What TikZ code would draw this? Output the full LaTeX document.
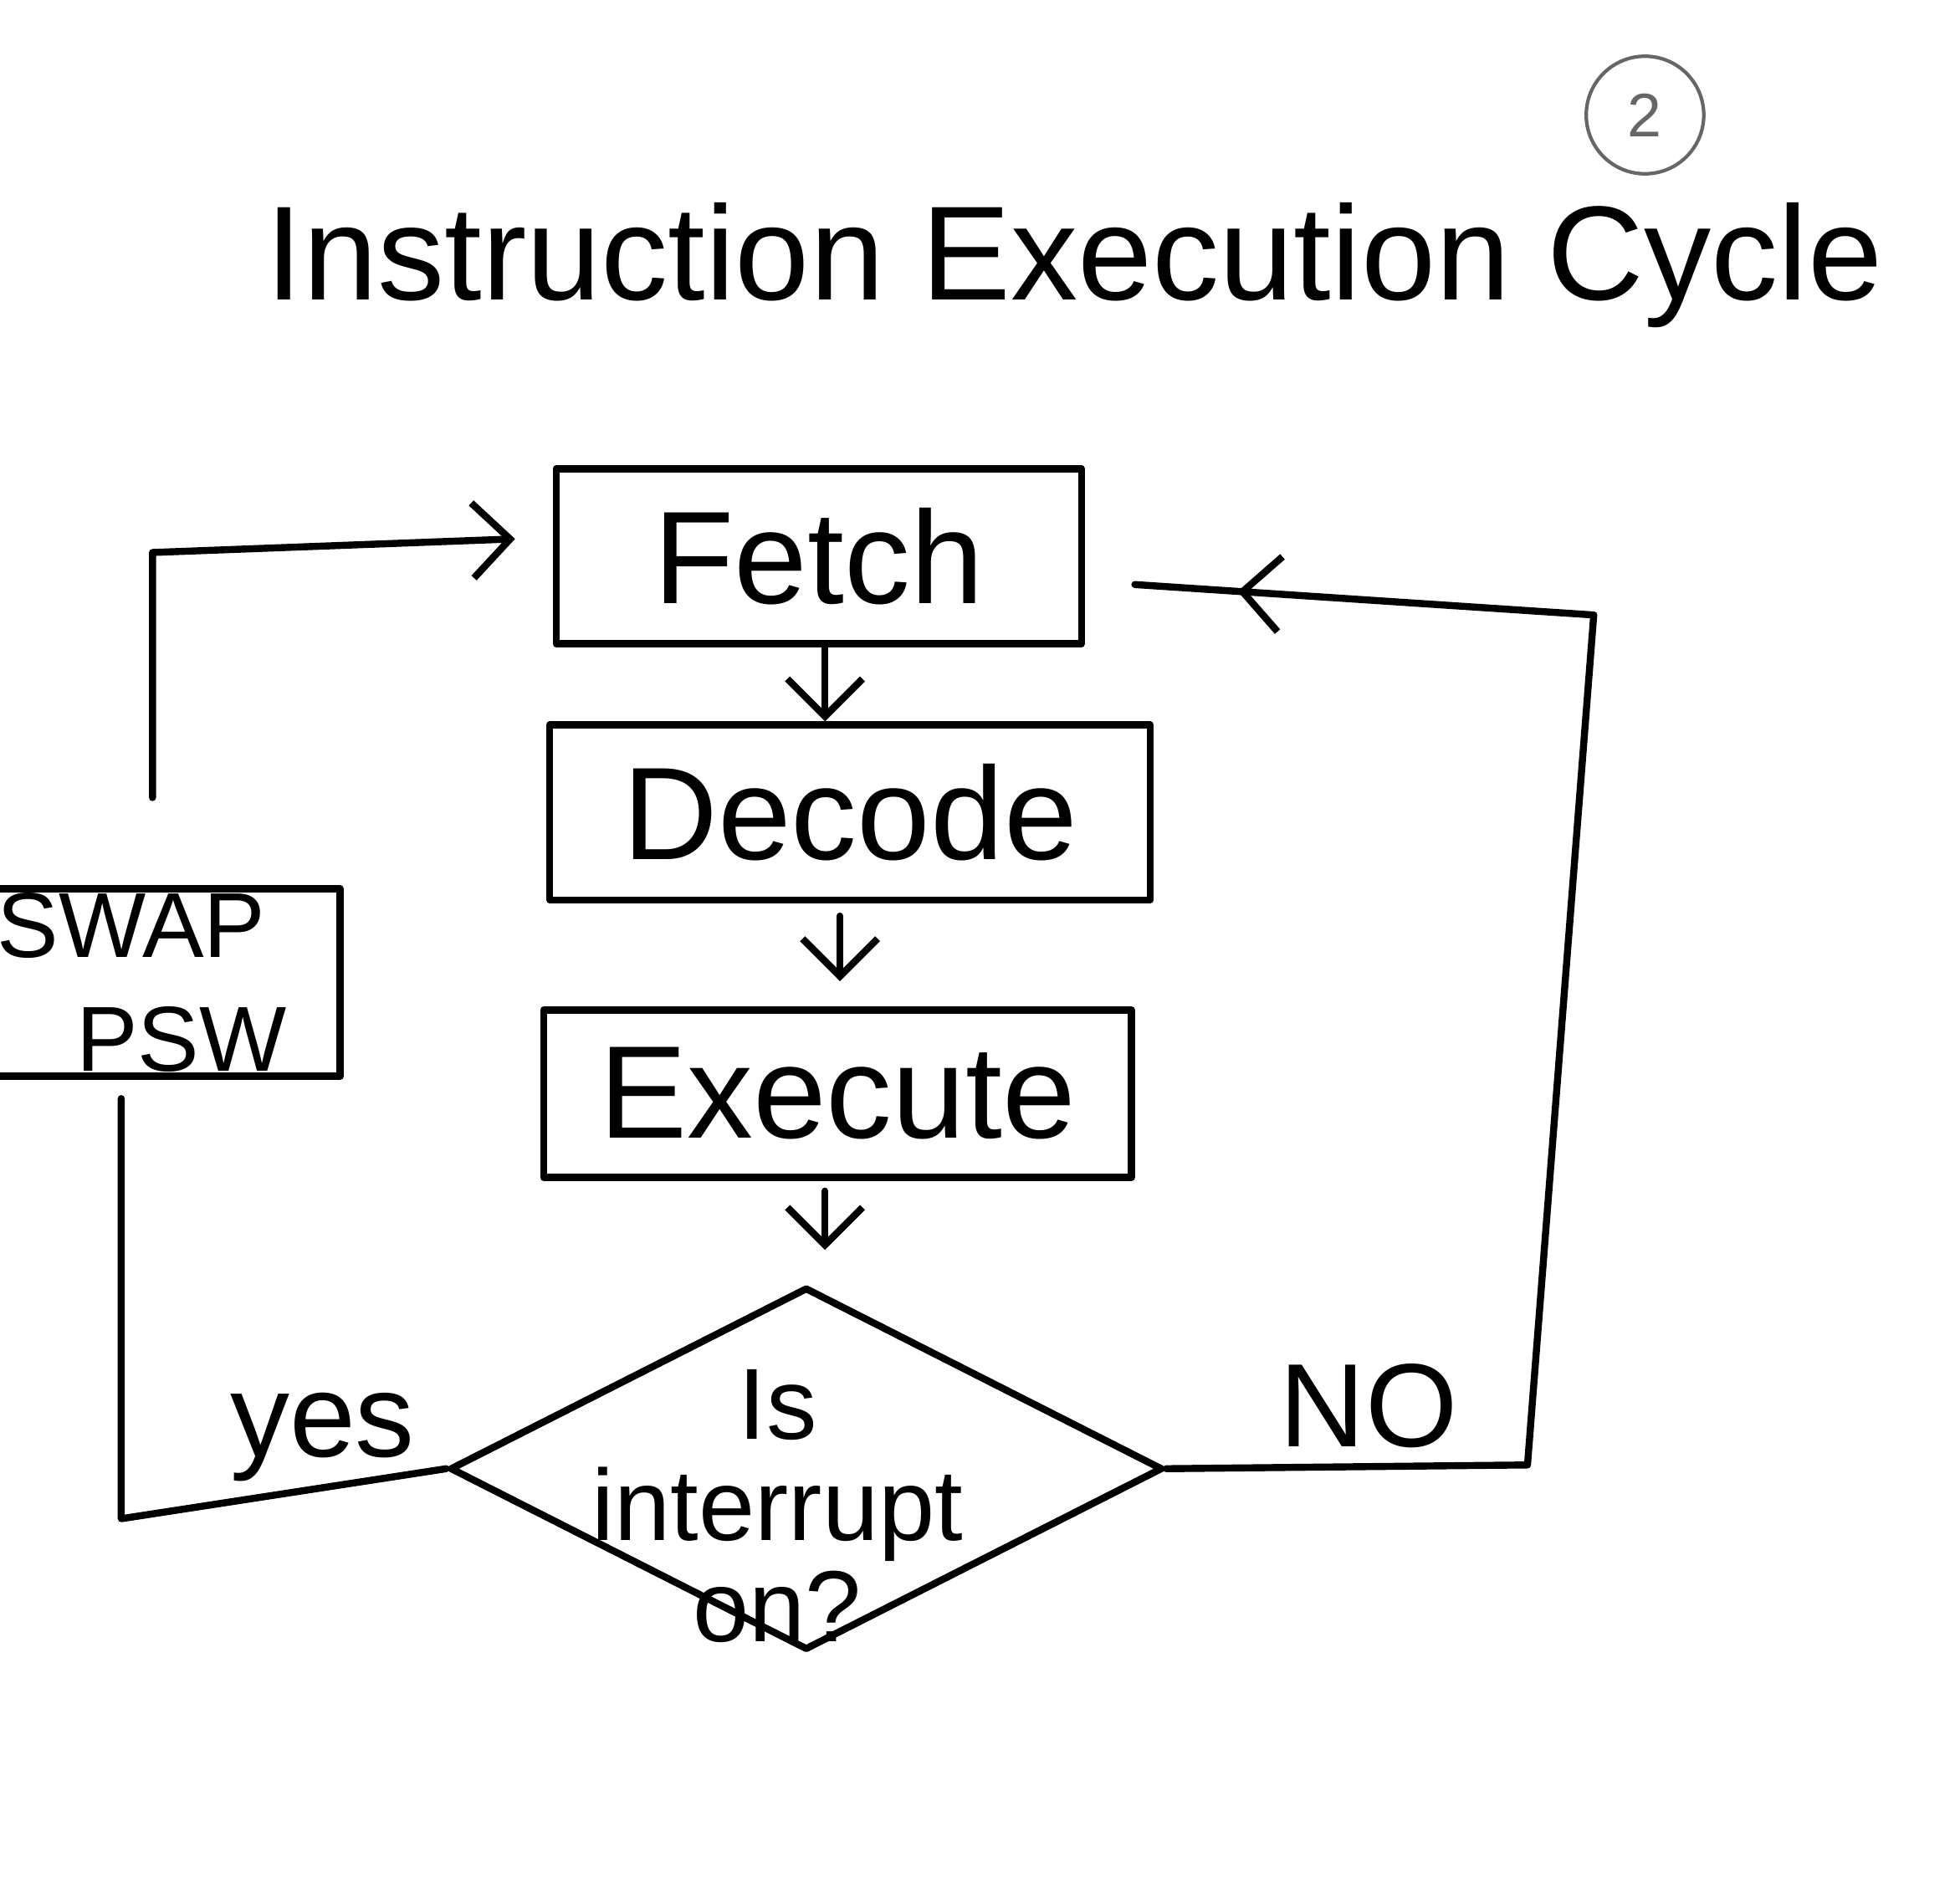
\documentclass[tikz,border=0pt]{standalone}
\usepackage{fontspec}
\setmainfont{Liberation Sans}
\usetikzlibrary{arrows.meta,shapes.geometric,decorations.markings,calc}
\begin{document}
\begin{tikzpicture}[x=0.01cm,y=-0.01cm,
  ink/.style={line width=1.6pt, line cap=round, line join=round, black},
  stepbox/.style={ink, draw, rectangle, inner sep=0pt},
  steptext/.style={font=\fontsize{30}{34}\selectfont},
  flow/.style={ink, -{Straight Barb[length=0.3cm,width=0.6cm,line width=1.6pt]}},
  midarrow/.style={decoration={markings, mark=at position #1 with {\arrow{Straight Barb[length=0.3cm,width=0.6cm]}}}, postaction={decorate}},
  lbl/.style={font=\fontsize{27}{30}\selectfont}
]
\useasboundingbox (0,0) rectangle (1568,1514);

% title and page number
\node[font=\fontsize{30.5}{34}\selectfont, anchor=base west, inner sep=0pt] (title) at (212,240) {Instruction Execution Cycle};
\node[draw=black!60, line width=0.8pt, circle, minimum size=0.94cm, inner sep=0pt, text=black!60, font=\fontsize{14}{16}\selectfont] (page) at (1316,92) {2};

% steps
\node[stepbox, minimum width=4.2cm, minimum height=1.4cm, steptext] (fetch) at (655,445) {Fetch};
\node[stepbox, minimum width=4.8cm, minimum height=1.4cm, steptext] (decode) at (680,650) {Decode};
\node[stepbox, minimum width=4.7cm, minimum height=1.34cm, steptext] (execute) at (670,875) {Execute};
\node[ink, draw, diamond, minimum width=5.7cm, minimum height=2.9cm, inner sep=0pt] (dec) at (645,1175) {};
\node[align=center, font=\fontsize{23}{23}\selectfont] (dectext) at (622,1205) {Is\\interrupt\\on?};
\node[stepbox, minimum width=3.12cm, minimum height=1.5cm] (swap) at (116,786) {};
\node[align=center, font=\fontsize{21}{26}\selectfont] (swaptext) at (105,786) {SWAP\\\hspace*{0.8cm}PSW};

% main flow
\draw[flow] (fetch.south -| 660,0) -- (decode.north -| 660,0);
\draw[flow] (decode.south -| 672,0) ++(0,10) -- (672,785);
\draw[flow] (execute.south -| 660,0) ++(0,8) -- (660,1000);

% NO branch back to Fetch
\coordinate (noA) at (1222,1172);
\coordinate (noB) at (1275,492);
\node[lbl] (nolbl) at (1095,1125) {NO};
\draw[ink] (dec.east) -- (noA) -- (noB);
\draw[ink, midarrow=0.7, shorten >=0.4cm] (noB) -- ($(fetch.east)+(0,20)$);

% YES branch through Swap PSW
\coordinate (yesA) at (97,1215);
\node[lbl] (yeslbl) at (258,1150) {yes};
\draw[ink, shorten >=0.15cm] (dec.west) -- (yesA) -- (yesA |- swap.south);
\coordinate (swX) at (122,442);
\draw[flow, shorten <=0.7cm, shorten >=0.3cm] (swX |- swap.north) -- (swX) -- ($(fetch.west)+(0,-15)$);
\end{tikzpicture}
\end{document}
